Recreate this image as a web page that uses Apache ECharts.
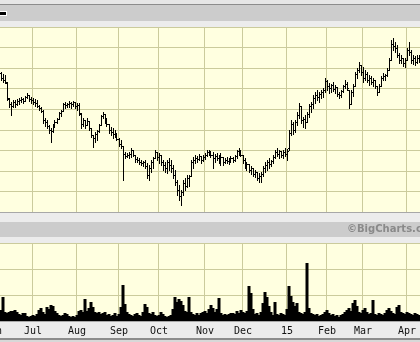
<!DOCTYPE html>
<html><head><meta charset="utf-8">
<script src="https://cdn.jsdelivr.net/npm/echarts@6/dist/echarts.min.js"></script>
<style>html,body{margin:0;padding:0;background:#ececec;overflow:hidden}#c{width:420px;height:342px}</style>
</head><body><div id="c"></div>
<script>
// Month labels and the trading-day index where each month starts
const monthLabels = ['Jun','Jul','Aug','Sep','Oct','Nov','Dec','15','Feb','Mar','Apr'];
const monthStart  = [-4, 16, 38, 59, 79, 102, 121, 143, 163, 181, 203];
const lead = 4; // blank trading days before the first bar (Jun label sits there)

// Daily prices (scaled units)
const open = [139,134,132,129,113,108,106,110,108,111, 112,113,111,115,117,113,112,110,109,106,
 104,101,92,90,86,82,81,86,90,93, 99,101,108,107,108,109,108,110,106,107,
 98,88,92,87,91,84,77,74,78,81, 87,96,98,92,88,82,80,78,77,73,
 68,66,58,56,57,58,62,57,53,52, 50,49,50,46,37,44,50,54,60,55,
 57,50,47,44,50,47,44,37,30,22, 16,20,29,26,34,36,50,52,54,53,
 56,52,55,57,60,59,57,54,56,54, 52,55,50,52,51,53,54,52,56,61,
 62,57,52,46,48,42,44,38,40,34, 36,38,44,47,50,48,51,55,60,58,
 61,57,60,58,64,79,88,82,90,97, 106,92,93,90,98,106,108,114,117,115,
 118,120,122,131,126,124,127,123,125,118, 117,121,126,128,122,108,120,126,138,142,
 147,140,134,138,132,134,130,132,126,120, 126,134,136,137,142,152,168,166,164,157,
 152,154,149,152,162,160,152,154,150,154];
const close = [134,132,130,114,108,106,110,108,111,112, 113,111,115,117,113,112,110,109,106,104,
 101,92,90,86,82,81,86,90,93,99, 101,108,107,108,109,108,110,106,107,99,
 88,92,87,91,84,77,74,78,81,87, 96,98,92,88,82,80,78,77,73,68,
 66,58,56,57,58,62,57,53,52,50, 49,50,46,37,44,50,54,60,55,57,
 50,47,44,50,47,44,37,30,22,16, 20,29,26,34,36,50,52,54,53,56,
 52,55,57,60,59,57,54,56,54,52, 55,50,52,51,53,54,52,56,61,62,
 57,52,46,48,42,44,38,40,34,36, 38,44,47,50,48,51,55,60,58,61,
 57,60,58,61,79,88,82,90,97,106, 92,93,90,98,106,108,114,117,115,118,
 120,122,131,126,124,127,123,125,118,117, 121,126,128,124,108,120,126,138,142,147,
 140,134,138,132,134,130,132,126,120,126, 134,136,137,142,152,168,166,164,157,152,
 154,149,152,162,160,152,154,150,154,152];
const low = [132,130,129,112,105,97,105,105,107,108, 110,109,111,114,111,109,108,106,105,102,
 100,89,86,84,79,70,80,85,89,93, 96,101,104,105,105,104,106,104,102,97,
 84,86,84,87,82,75,65,70,72,80, 87,94,89,86,79,77,74,75,72,66,
 64,32,54,55,54,55,56,50,50,48, 47,46,44,34,32,40,44,54,52,49,
 47,42,40,39,42,40,34,27,17,12, 7,17,22,25,26,36,44,49,50,52,
 49,51,53,56,57,55,44,50,52,49, 47,47,49,49,48,50,50,51,54,57,
 56,49,44,42,40,38,36,35,32,30, 30,36,40,42,44,46,49,54,56,54,
 55,54,56,52,62,77,78,80,87,94, 89,85,84,90,95,100,104,109,112,110,
 114,115,120,122,119,120,121,119,116,114, 115,120,124,122,104,108,116,126,134,140,
 137,130,132,130,127,128,126,124,117,120, 126,132,132,136,142,152,162,160,155,149,
 149,146,145,152,157,149,148,147,149,150];
const high = [140,138,137,130,114,110,112,112,113,114, 115,114,116,119,117,115,114,113,112,107,
 105,102,94,92,87,84,88,92,94,100, 102,109,110,109,111,110,111,110,109,109,
 99,94,92,94,91,84,77,80,82,88, 97,100,98,94,88,85,84,82,79,74,
 72,66,60,59,60,64,62,57,55,54, 52,51,52,49,47,52,55,62,60,59,
 57,52,50,52,54,52,47,42,32,27, 22,32,34,37,37,52,55,57,56,58,
 56,57,59,62,62,61,60,58,59,57, 59,55,54,55,54,56,55,57,62,64,
 62,57,54,50,48,46,44,42,40,39, 40,46,50,52,54,52,57,62,64,62,
 61,62,64,63,82,92,90,92,100,109, 106,95,97,100,108,110,117,120,122,120,
 122,124,134,132,129,128,130,127,125,120, 122,127,132,130,122,122,128,140,144,150,
 147,145,142,140,137,136,134,132,126,128, 136,139,138,144,154,172,174,170,167,159,
 157,154,154,164,170,162,157,156,157,157];
// Daily volume (scaled units)
const volume = [11,24,9,8,9,10,10,11,9,7, 6,8,8,5,4,5,6,5,7,11,
 13,9,7,14,12,16,15,10,8,6, 5,6,8,7,5,4,5,4,6,10,
 11,9,22,10,13,19,14,9,8,9, 7,8,9,6,7,5,6,8,5,7,
 14,36,17,9,7,6,5,7,8,6, 5,9,17,14,8,7,9,6,5,6,
 9,7,5,4,5,6,12,24,19,22, 20,16,10,9,24,9,7,6,8,6,
 8,9,10,8,12,16,13,9,12,23, 8,6,7,6,7,8,8,7,10,8,
 11,9,8,10,35,28,12,7,8,6, 9,18,29,24,15,9,6,19,7,6,
 8,7,6,12,35,25,19,15,18,9, 8,7,9,58,13,8,7,6,7,5,
 6,7,9,11,8,6,7,5,6,4, 6,7,9,11,13,10,18,21,15,9,
 8,11,13,9,7,8,21,7,6,8, 7,6,8,11,13,10,8,7,14,16,
 9,8,7,9,8,7,6,8,7,6];

const GRID = '#cbcb9c';
const PLOT = '#ffffe0';
const nCat = lead + open.length;
const cats = Array.from({length: nCat}, (_, i) => String(i));
const labelAt = new Map(monthStart.map((d, k) => [d + lead, monthLabels[k]]));
const isMonth = (idx) => labelAt.has(idx);

const ohlc = open.map((o, i) => [i + lead, o, close[i], low[i], high[i]]);
const vol = volume.map((v, i) => [i + lead, v]);

const chart = echarts.init(document.getElementById('c'), null, {renderer: 'canvas'});
const band = (y, h, c, z) => ({type: 'rect', z: z, silent: true, shape: {x: 0, y: y, width: 420, height: h}, style: {fill: c}});

chart.setOption({
  animation: false,
  backgroundColor: '#ececec',
  grid: [
    {left: -8, right: 0, top: 27, height: 185, show: true, backgroundColor: PLOT, borderWidth: 0, outerBoundsMode: 'none'},
    {left: -8, right: 0, top: 243, height: 78, show: true, backgroundColor: PLOT, borderWidth: 0, outerBoundsMode: 'none'}
  ],
  xAxis: [
    {type: 'category', gridIndex: 0, data: cats, boundaryGap: true,
     axisLine: {show: false}, axisTick: {show: false}, axisLabel: {show: false},
     splitLine: {show: true, interval: isMonth, lineStyle: {color: GRID, width: 1}}},
    {type: 'category', gridIndex: 1, data: cats, boundaryGap: true,
     axisLine: {show: false}, axisTick: {show: false},
     axisLabel: {show: true, interval: isMonth, formatter: (v, idx) => labelAt.get(idx) || '',
       color: '#111', fontFamily: 'DejaVu Sans Mono', fontSize: 10, margin: 5},
     splitLine: {show: true, interval: isMonth, lineStyle: {color: GRID, width: 1}}}
  ],
  yAxis: [
    {type: 'value', gridIndex: 0, min: 0, max: 185, interval: 185 / 9,
     axisLabel: {show: false}, axisLine: {show: false}, axisTick: {show: false},
     splitLine: {show: true, lineStyle: {color: GRID, width: 1}}},
    {type: 'value', gridIndex: 1, min: 0, max: 78, interval: 26,
     axisLabel: {show: false}, axisLine: {show: false}, axisTick: {show: false},
     splitLine: {show: true, lineStyle: {color: GRID, width: 1}}}
  ],
  graphic: [
    band(0, 4, '#e6e6e6', -5),
    band(4, 1, '#8c8c8c', -5),
    band(5, 16, '#cccccc', -5),
    band(21, 6, '#ececec', -5),
    band(222, 15, '#cccccc', -5),
    band(338, 2, '#8c8c8c', -5),
    band(340, 2, '#d8d8d8', -5),
    {type: 'rect', z: 100, silent: true, shape: {x: 0, y: 212, width: 420, height: 1}, style: {fill: '#a8a8a8'}},
    {type: 'rect', z: 100, silent: true, shape: {x: 0, y: 321, width: 420, height: 1}, style: {fill: '#a8a8a8'}},
    {type: 'rect', z: 100, silent: true, shape: {x: -2, y: 11, width: 9, height: 5}, style: {fill: '#ffffff'}},
    {type: 'rect', z: 101, silent: true, shape: {x: -2, y: 12, width: 8, height: 3}, style: {fill: '#000000'}},
    {type: 'text', z: 100, silent: true, x: 347, y: 229,
     style: {text: '\u00a9BigCharts.com', fill: '#8a8a8a', font: 'bold 10px "DejaVu Sans"', verticalAlign: 'middle', align: 'left'}}
  ],
  series: [
    {type: 'custom', xAxisIndex: 0, yAxisIndex: 0, data: ohlc, encode: {x: 0, y: [1, 2, 3, 4]},
     renderItem: function (params, api) {
       const i = api.value(0);
       const pH = api.coord([i, api.value(4)]);
       const pL = api.coord([i, api.value(3)]);
       const pO = api.coord([i, api.value(1)]);
       const pC = api.coord([i, api.value(2)]);
       const x = Math.floor(pH[0]);
       const yt = Math.round(pH[1]), yb = Math.round(pL[1]);
       return {type: 'group', children: [
         {type: 'rect', shape: {x: x, y: yt, width: 1, height: Math.max(1, yb - yt + 1)}, style: {fill: '#000'}},
         {type: 'rect', shape: {x: x - 1, y: Math.round(pO[1]), width: 1, height: 1}, style: {fill: '#000'}},
         {type: 'rect', shape: {x: x + 1, y: Math.round(pC[1]), width: 1, height: 1}, style: {fill: '#000'}}
       ]};
     }},
    {type: 'bar', xAxisIndex: 1, yAxisIndex: 1, data: vol, barWidth: 3, itemStyle: {color: '#000'}}
  ]
});
</script></body></html>
